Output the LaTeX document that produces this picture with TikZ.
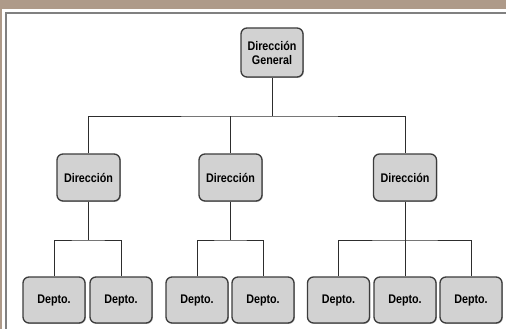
\documentclass[tikz,border=0pt]{standalone}
\usepackage{fontspec}
\setmainfont{Liberation Sans}[FakeStretch=0.86]
\usepackage{tikz}
\usetikzlibrary{shadows}
\definecolor{bandbrown}{RGB}{174,154,137}
\definecolor{framegray}{RGB}{128,128,128}
\definecolor{boxfill}{RGB}{210,210,210}
\definecolor{boxline}{RGB}{60,60,60}
\definecolor{linkline}{RGB}{45,45,45}
\tikzset{
  unitbox/.style={draw=boxline, line width=1.3pt, fill=boxfill, rounded corners=6pt,
    minimum width=62pt, minimum height=46pt, align=center, inner sep=1pt,
    font=\fontsize{12.5}{14}\selectfont\bfseries,
    drop shadow={shadow xshift=0.8pt, shadow yshift=-0.8pt, fill=black, opacity=0.35}},
  link/.style={draw=linkline, line width=0.9pt}
}
\begin{document}
\begin{tikzpicture}[x=1pt, y=-1pt]
    \useasboundingbox (0,0) rectangle (506,329);
    % frame
    \fill[white] (0,0) rectangle (506,329);
    \fill[bandbrown] (0,0) rectangle (506,9);
    \fill[bandbrown] (0,0) rectangle (2,329);
    \draw[framegray, line width=2pt] (5.5,335) -- (5.5,13.5) -- (515,13.5);
    % level 1
    \node[unitbox, minimum height=49pt] (gen) at (272,52.5) {Dirección\\General};
    % level 2
    \node[unitbox, minimum width=63pt, minimum height=47pt] (dir1) at (88.5,177.5) {Dirección};
    \node[unitbox, minimum width=63pt, minimum height=47pt] (dir2) at (230.5,177.5) {Dirección};
    \node[unitbox, minimum width=63pt, minimum height=47pt] (dir3) at (405,177.5) {Dirección};
    % level 3
    \node[unitbox] (dep1) at (54,300) {Depto.};
    \node[unitbox] (dep2) at (121,300) {Depto.};
    \node[unitbox] (dep3) at (197,300) {Depto.};
    \node[unitbox] (dep4) at (263,300) {Depto.};
    \node[unitbox] (dep5) at (338.5,300) {Depto.};
    \node[unitbox] (dep6) at (405,300) {Depto.};
    \node[unitbox] (dep7) at (471,300) {Depto.};
    % connectors
    \coordinate (j0) at (272,116);
    \coordinate (j1) at (88.5,240);
    \coordinate (j2) at (230.5,240);
    \coordinate (j3) at (405,240);
    \draw[link] (gen.south) -- (j0);
    \draw[link] (dir1.north) |- (j0) -| (dir3.north);
    \draw[link] (dir2.north) -- (dir2.north |- j0);
    \draw[link] (dir1.south) -- (j1);
    \draw[link] (dep1.north) |- (j1) -| (dep2.north);
    \draw[link] (dir2.south) -- (j2);
    \draw[link] (dep3.north) |- (j2) -| (dep4.north);
    \draw[link] (dir3.south) -- (j3);
    \draw[link] (dep5.north) |- (j3) -| (dep7.north);
    \draw[link] (dep6.north) -- (dep6.north |- j3);
\end{tikzpicture}
\end{document}
